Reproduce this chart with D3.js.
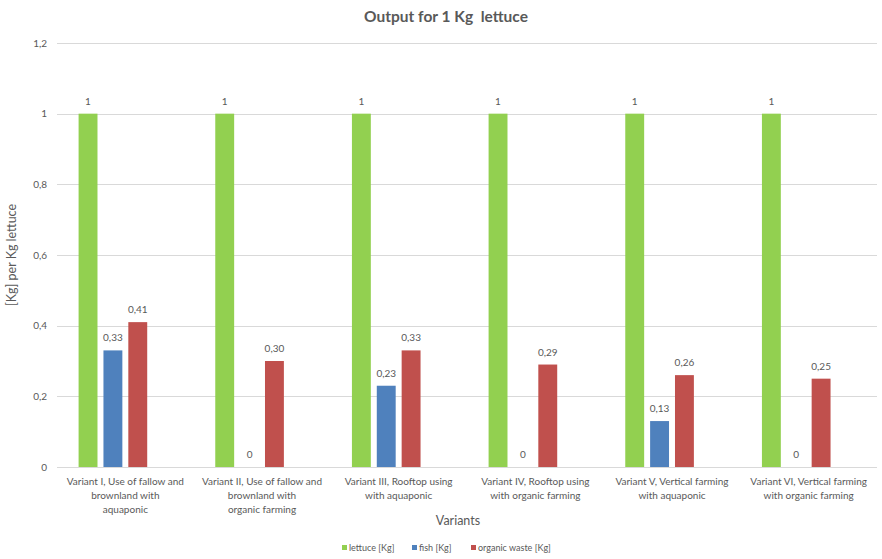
<!DOCTYPE html>
<html>
<head>
<meta charset="utf-8">
<script src="https://cdn.jsdelivr.net/npm/d3@7"></script>
<style>
  html, body { margin: 0; padding: 0; background: #fff; }
  svg { display: block; font-family: Lato, "Open Sans", sans-serif; }
</style>
</head>
<body>
<svg id="chart" width="882" height="559"></svg>
<script>
// Category labels (line breaks as drawn under each group)
const categories = [
  "Variant I, Use of fallow and\nbrownland with\naquaponic",
  "Variant II, Use of fallow and\nbrownland with\norganic farming",
  "Variant III, Rooftop using\nwith aquaponic",
  "Variant IV, Rooftop using\nwith organic farming",
  "Variant V, Vertical farming\nwith aquaponic",
  "Variant VI, Vertical farming\nwith organic farming"
];
const seriesNames = ["lettuce [Kg]", "fish [Kg]", "organic waste [Kg]"];
const lettuce = [1, 1, 1, 1, 1, 1];
const fish = [0.33, 0, 0.23, 0, 0.13, 0];
const organicWaste = [0.41, 0.30, 0.33, 0.29, 0.26, 0.25];
const yTicks = [0, 0.2, 0.4, 0.6, 0.8, 1, 1.2];
const colors = ["#92D050", "#4F81BD", "#C0504D"];

const svg = d3.select("#chart");
const margin = { left: 57, right: 5, top: 43, bottom: 92 };
const W = 882, H = 559;
const textColor = "#595959";

const series = [lettuce, fish, organicWaste];

// Outer band per variant; inner band reserves a fourth (empty) slot
const x0 = d3.scaleBand()
  .domain(d3.range(categories.length))
  .range([margin.left, W - margin.right])
  .paddingInner(0.316)
  .paddingOuter(0.158);
const x1 = d3.scaleBand()
  .domain([0, 1, 2, 3])
  .range([0, x0.bandwidth()])
  .paddingInner(0.24)
  .paddingOuter(0);
const y = d3.scaleLinear().domain([0, 1.2]).range([H - margin.bottom, margin.top]);

// Gridlines
svg.append("g")
  .selectAll("line")
  .data(yTicks)
  .join("line")
  .attr("x1", margin.left)
  .attr("x2", W - margin.right)
  .attr("y1", d => Math.round(y(d)) + 0.5)
  .attr("y2", d => Math.round(y(d)) + 0.5)
  .attr("stroke", "#d9d9d9")
  .attr("stroke-width", 1);

// Y axis labels
const fmtTick = d => d3.format(".1~f")(d).replace(".", ",");
svg.append("g")
  .selectAll("text")
  .data(yTicks)
  .join("text")
  .attr("x", 47)
  .attr("y", d => y(d))
  .attr("dy", "0.35em")
  .attr("text-anchor", "end")
  .attr("font-size", 10)
  .attr("fill", textColor)
  .text(fmtTick);

// Bars
const fmtVal = v => (v === 0 || v === 1) ? String(v) : d3.format(".2f")(v).replace(".", ",");
const groups = svg.append("g")
  .selectAll("g")
  .data(categories.map((c, i) => i))
  .join("g")
  .attr("transform", i => `translate(${x0(i)},0)`);

groups.selectAll("rect")
  .data(i => series.map((s, k) => ({ k, v: s[i] })))
  .join("rect")
  .attr("x", d => x1(d.k))
  .attr("width", x1.bandwidth())
  .attr("y", d => y(d.v))
  .attr("height", d => y(0) - y(d.v))
  .attr("fill", d => colors[d.k]);

groups.selectAll("text")
  .data(i => series.map((s, k) => ({ k, v: s[i] })))
  .join("text")
  .attr("x", d => x1(d.k) + x1.bandwidth() / 2)
  .attr("y", d => y(d.v) - 9)
  .attr("text-anchor", "middle")
  .attr("font-size", 10)
  .attr("fill", textColor)
  .text(d => fmtVal(d.v));

// Category labels
const catLabels = svg.append("g")
  .selectAll("text")
  .data(categories)
  .join("text")
  .attr("text-anchor", "middle")
  .attr("font-size", 10)
  .attr("fill", textColor)
  .attr("transform", (d, i) => `translate(${x0(i) + x0.bandwidth() / 2},${H - margin.bottom + 18})`);
catLabels.selectAll("tspan")
  .data(d => d.split("\n"))
  .join("tspan")
  .attr("x", 0)
  .attr("y", (d, j) => j * 14)
  .text(d => d);

// Title
svg.append("text")
  .attr("x", 446)
  .attr("y", 22)
  .attr("text-anchor", "middle")
  .attr("font-size", 15.5)
  .attr("font-weight", "bold")
  .attr("fill", textColor)
  .text("Output for 1 Kg\u00A0 lettuce");

// Axis titles
svg.append("text")
  .attr("transform", `translate(16,${(y(0) + y(1.2)) / 2}) rotate(-90)`)
  .attr("text-anchor", "middle")
  .attr("font-size", 12.5)
  .attr("fill", textColor)
  .text("[Kg] per Kg lettuce");

svg.append("text")
  .attr("x", 458)
  .attr("y", 525)
  .attr("text-anchor", "middle")
  .attr("font-size", 12.5)
  .attr("fill", textColor)
  .text("Variants");

// Legend
const legendX = [342, 412, 471];
const legend = svg.append("g")
  .selectAll("g")
  .data(seriesNames)
  .join("g")
  .attr("transform", (d, i) => `translate(${legendX[i]},548)`);
legend.append("rect")
  .attr("x", 0)
  .attr("y", -3)
  .attr("width", 5)
  .attr("height", 5)
  .attr("fill", (d, i) => colors[i]);
legend.append("text")
  .attr("x", 7)
  .attr("y", 0)
  .attr("dy", "0.35em")
  .attr("font-size", 9)
  .attr("fill", textColor)
  .text(d => d);
</script>
</body>
</html>
